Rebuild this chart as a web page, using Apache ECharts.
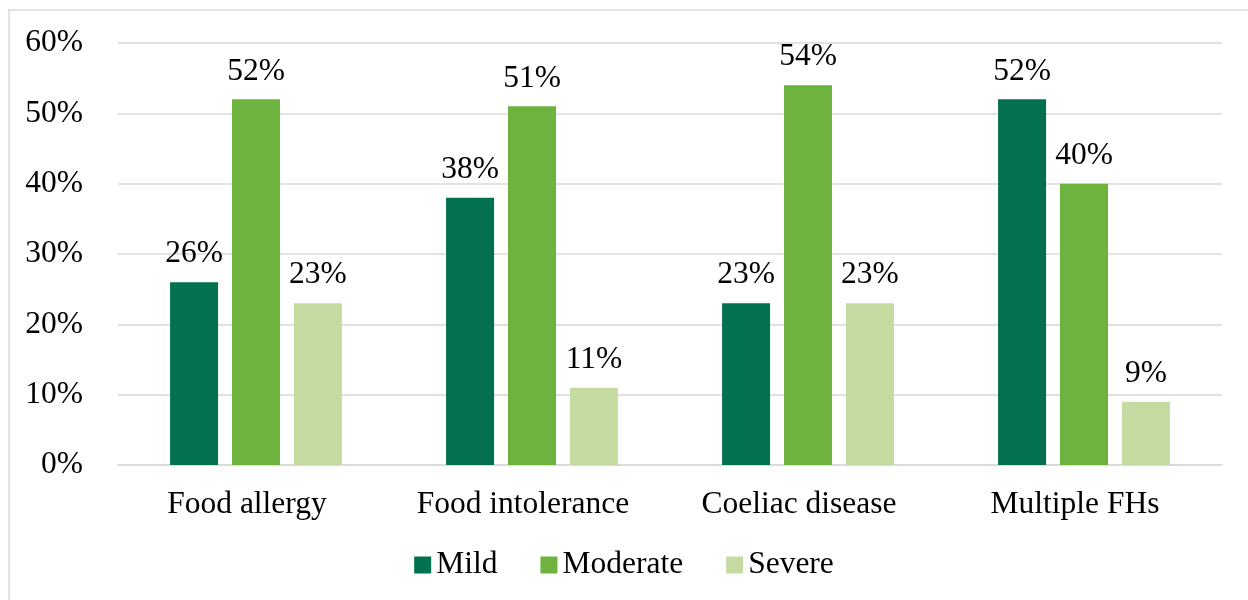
<!DOCTYPE html>
<html>
<head>
<meta charset="utf-8">
<script src="https://cdn.jsdelivr.net/npm/echarts@6/dist/echarts.min.js"></script>
<style>
html,body{margin:0;padding:0;background:#fff;}
#chart{width:1248px;height:600px;}
</style>
</head>
<body>
<div id="chart"></div>
<script>
const categories = ['Food allergy', 'Food intolerance', 'Coeliac disease', 'Multiple FHs'];
const mild = [26, 38, 23, 52];
const moderate = [52, 51, 54, 40];
const severe = [23, 11, 23, 9];
const seriesNames = ['Mild', 'Moderate', 'Severe'];
const colors = ['#03704F', '#6EB240', '#C6DBA1'];

const FONT = '"Liberation Serif", "Times New Roman", serif';
const FS = 31.5;
const chart = echarts.init(document.getElementById('chart'), null, {renderer: 'canvas'});

const mkSeries = (name, data, color) => ({
  name: name,
  type: 'bar',
  data: data,
  barWidth: 48,
  barGap: '29%',
  itemStyle: {color: color},
  label: {
    show: true,
    position: 'top',
    distance: 12,
    formatter: p => p.value + '%',
    fontFamily: FONT,
    fontSize: FS,
    color: '#000'
  }
});

chart.setOption({
  animation: false,
  textStyle: {fontFamily: FONT},
  graphic: [{
    type: 'rect',
    shape: {x: 9, y: 10, width: 1260, height: 620},
    style: {fill: 'none', stroke: '#d9d9d9', lineWidth: 1.5},
    silent: true
  }],
  grid: {left: 118, right: 26, top: 43, bottom: 135, containLabel: false},
  legend: {
    data: seriesNames,
    bottom: 14,
    left: 'center',
    itemWidth: 17,
    itemHeight: 17,
    itemGap: 43,
    icon: 'rect',
    textStyle: {fontFamily: FONT, fontSize: FS, color: '#000'}
  },
  xAxis: {
    type: 'category',
    data: categories,
    axisLine: {show: true, lineStyle: {color: '#d9d9d9', width: 1.5}},
    axisTick: {show: false},
    axisLabel: {fontFamily: FONT, fontSize: FS, color: '#000', margin: 24, interval: 0, padding: [0, 18, 0, 0]}
  },
  yAxis: {
    type: 'value',
    min: 0,
    max: 60,
    interval: 10,
    axisLine: {show: false},
    axisTick: {show: false},
    splitLine: {lineStyle: {color: '#d9d9d9', width: 1.5}},
    axisLabel: {fontFamily: FONT, fontSize: FS, color: '#000', margin: 35, formatter: v => v + '%'}
  },
  series: [
    mkSeries(seriesNames[0], mild, colors[0]),
    mkSeries(seriesNames[1], moderate, colors[1]),
    mkSeries(seriesNames[2], severe, colors[2])
  ]
});
</script>
</body>
</html>
